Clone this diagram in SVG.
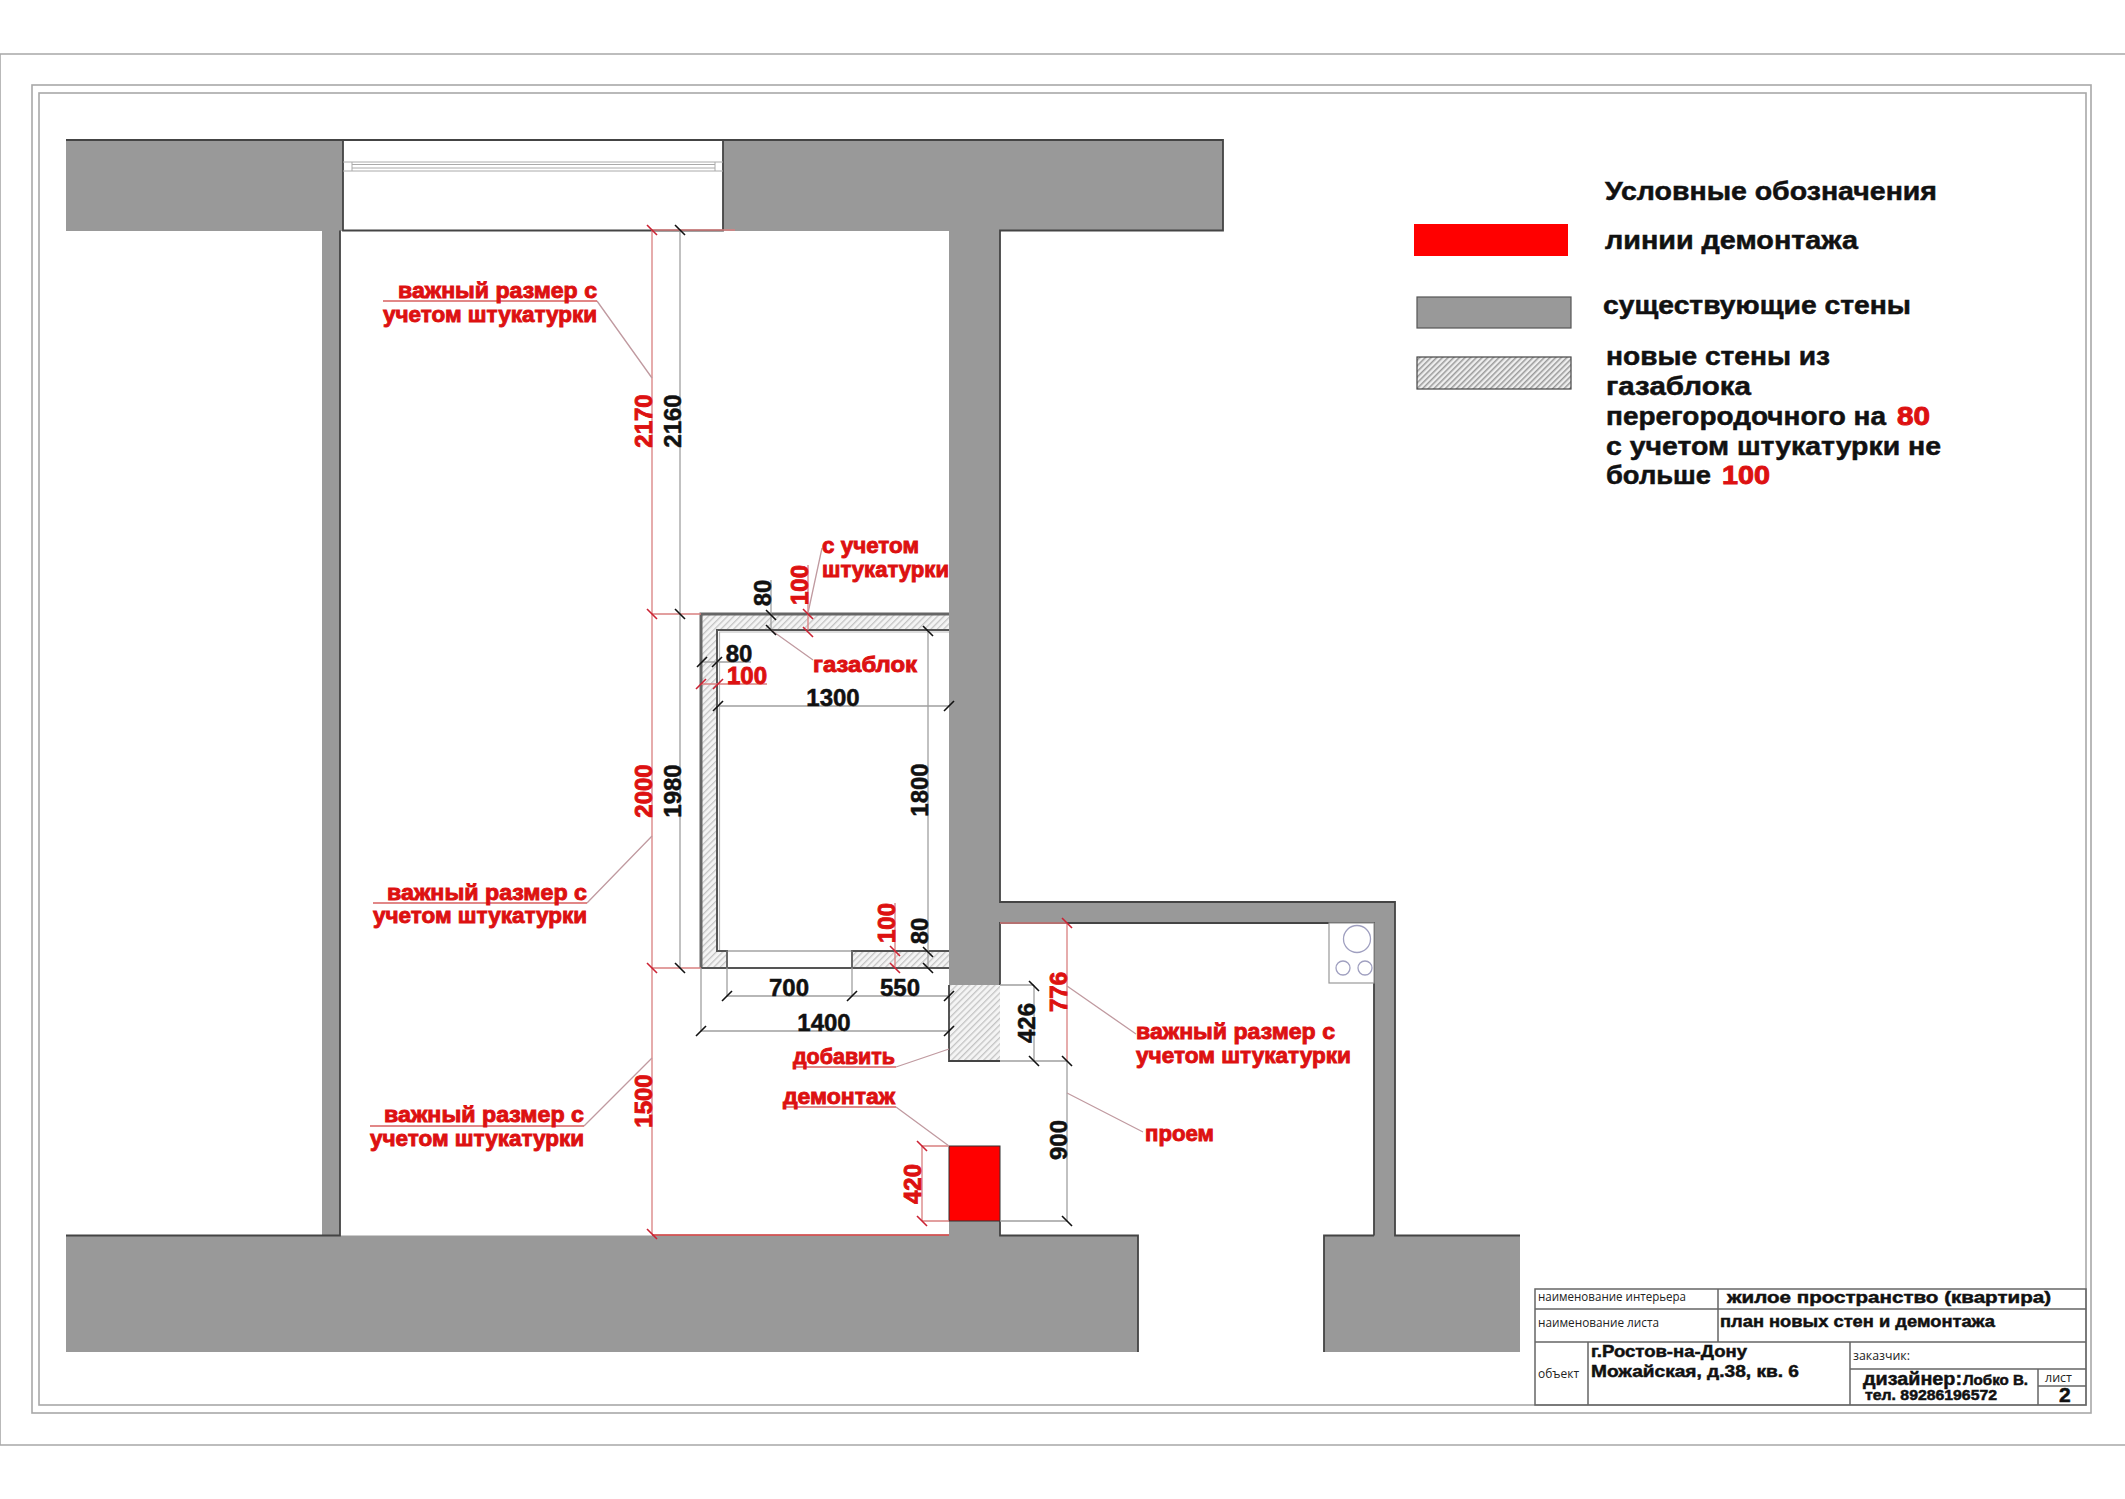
<svg xmlns="http://www.w3.org/2000/svg" xmlns:xlink="http://www.w3.org/1999/xlink" width="2125" height="1499" viewBox="0 0 2125 1499">
<style>
text{font-family:"Liberation Sans",Arial,sans-serif;font-weight:700;fill:#000;stroke:none}
.r{fill:#dd1111;stroke:#dd1111;stroke-width:.9}
.k{fill:#111;stroke:#111;stroke-width:.5}
.n{font-size:24px;text-anchor:middle}
.l{font-size:22px}
.g{font-size:25px}
.tb{font-size:17px}
.thin{font-family:"Open Sans","Noto Sans",sans-serif;font-weight:400;font-size:12px;fill:#222}
.frame{fill:none;stroke:#a8a8a8;stroke-width:1.6}
.wall{fill:#999}
.edge{fill:none;stroke:#444;stroke-width:1.8}
.hat{fill:url(#h)}
.dg{fill:none;stroke:#a0a0a0;stroke-width:1.3}
.dr{fill:none;stroke:#d98080;stroke-width:1.3}
.ld{fill:none;stroke:#c09aa0;stroke-width:1.3}
.ul{fill:none;stroke:#d86060;stroke-width:1.5}
.tk{stroke:#111;stroke-width:1.6}
.tr{stroke:#cc2233;stroke-width:1.6}
.tl{fill:none;stroke:#666;stroke-width:1.5}
.win{fill:none;stroke:#aaa;stroke-width:1}
</style>
<defs>
<pattern id="h" width="4.5" height="4.5" patternUnits="userSpaceOnUse" patternTransform="rotate(45)">
<rect width="4.5" height="4.5" fill="#f4f4f4"/><rect width="1.3" height="4.5" fill="#c4c4c4"/>
</pattern>
<pattern id="h2" width="4" height="4" patternUnits="userSpaceOnUse" patternTransform="rotate(45)">
<rect width="4" height="4" fill="#eee"/><rect width="1.5" height="4" fill="#999"/>
</pattern>
<path id="a" d="M-5-5L5 5"/>
<path id="b" d="M-5 5L5-5"/>
</defs>
<rect width="2125" height="1499" fill="#fff"/>
<g id="frames">
<path class="frame" d="M0 54H2125M0 54V1445H2125"/>
<rect class="frame" x="32" y="85" width="2059" height="1328"/>
<rect class="frame" x="39" y="93" width="2047" height="1312"/>
</g>
<g id="walls">
<path class="wall" d="M66 140H343V231H66ZM723 140H1223V231H723Z"/>
<rect class="wall" x="322" y="231" width="18" height="1005"/>
<path class="wall" d="M949 231H1000V902H1395V1236H1374V923H1000V985H949Z"/>
<path class="wall" d="M66 1235.5H949V1221H1000V1235.5H1138V1352H66ZM1324 1235.5H1520V1352H1324Z"/>
<path class="edge" d="M66 140H1223V230.5H1000V902H1395V1235.5H1520M343 140V230.5H723V140M340 230.5V1235.5H66M1374 1235.5V923H1000V985M1000 1221V1235.5H1138V1352M1324 1352V1235.5H1374"/>
</g>
<g id="window">
<path class="win" d="M343 162H723M343 171H723M352 162V171M715 162V171M352 164.5H715M352 168H715"/>
</g>
<g id="stove">
<rect x="1329" y="923" width="45" height="60" fill="#fff" stroke="#999" stroke-width="1.2"/>
<circle cx="1357" cy="939" r="13.5" fill="none" stroke="#a0a0c0" stroke-width="1.3"/>
<circle cx="1343" cy="968" r="7" fill="none" stroke="#a0a0c0" stroke-width="1.3"/>
<circle cx="1365" cy="968" r="7" fill="none" stroke="#a0a0c0" stroke-width="1.3"/>
</g>
<g id="new-walls">
<path class="hat" d="M701 614H949V630H717V951H727V968H701ZM852 951H949V968H852ZM949 985H1000V1061H949Z"/>
<path d="M701 968V614H949" fill="none" stroke="#666" stroke-width="3"/>
<path d="M719.5 951V632H949" fill="none" stroke="#bbb" stroke-width="1.2"/>
<path d="M727 968V951H717V630H949M949 951H852V968M701 968H949" fill="none" stroke="#555" stroke-width="2"/>
<path d="M727 968V951H852V968" fill="none" stroke="#777" stroke-width="1.2"/>
<path d="M949 985V1061H1000" fill="none" stroke="#444" stroke-width="1.8"/>
</g>
<g id="demolition">
<rect x="949" y="1146" width="51" height="75" fill="#f00" stroke="#333" stroke-width="1"/>
</g>
<g id="connectors">
<path class="dr" d="M652 230V1234M652 230H735M652 614H701M652 968H701M808 565V630M767 684H701M895 903V968M922 1146V1221M922 1146H949M922 1221H949M1067 923V1061M1000 923H1067"/>
<path d="M652 1235H949" fill="none" stroke="#cc3333" stroke-width="1.6"/>
<path class="dg" d="M680 230V968M771 580V630M702 662H751M717 706H949M928 630V968M727 968V996M852 968V996M727 996H949M701 968V1031M701 1031H949M1034 985V1061M1000 985H1034M1000 1061H1067M1067 1061V1221M1000 1221H1067"/>
<path class="ld" d="M597 301L652 378M587 903L652 836M584 1126L652 1058M822 548L808 613M771 630L813 660M896 1067L949 1049M896 1107L949 1146M1067 986L1136 1034M1067 1093L1143 1132"/>
<path class="ul" d="M383 301H597M373 903H587M370 1126H584M795 1067H896M783 1107H896"/>
<g class="tr">
<use xlink:href="#a" href="#a" x="652" y="230"/><use xlink:href="#a" href="#a" x="652" y="614"/><use xlink:href="#a" href="#a" x="652" y="968"/><use xlink:href="#a" href="#a" x="652" y="1234"/>
<use xlink:href="#a" href="#a" x="808" y="614"/><use xlink:href="#a" href="#a" x="808" y="632"/>
<use xlink:href="#b" href="#b" x="701" y="684"/><use xlink:href="#b" href="#b" x="718" y="684"/>
<use xlink:href="#a" href="#a" x="895" y="951"/><use xlink:href="#a" href="#a" x="895" y="968"/>
<use xlink:href="#a" href="#a" x="922" y="1146"/><use xlink:href="#a" href="#a" x="922" y="1221"/>
<use xlink:href="#a" href="#a" x="1067" y="923"/>
</g>
<g class="tk">
<use xlink:href="#a" href="#a" x="680" y="230"/><use xlink:href="#a" href="#a" x="680" y="614"/><use xlink:href="#a" href="#a" x="680" y="968"/>
<use xlink:href="#a" href="#a" x="771" y="615"/><use xlink:href="#a" href="#a" x="771" y="630"/>
<use xlink:href="#b" href="#b" x="702" y="662"/><use xlink:href="#b" href="#b" x="717" y="662"/>
<use xlink:href="#b" href="#b" x="718" y="706"/><use xlink:href="#b" href="#b" x="949" y="706"/>
<use xlink:href="#a" href="#a" x="928" y="631"/><use xlink:href="#a" href="#a" x="928" y="952"/><use xlink:href="#a" href="#a" x="928" y="968"/>
<use xlink:href="#b" href="#b" x="727" y="996"/><use xlink:href="#b" href="#b" x="852" y="996"/><use xlink:href="#b" href="#b" x="949" y="996"/>
<use xlink:href="#b" href="#b" x="701" y="1031"/><use xlink:href="#b" href="#b" x="949" y="1031"/>
<use xlink:href="#a" href="#a" x="1034" y="986"/><use xlink:href="#a" href="#a" x="1034" y="1061"/><use xlink:href="#a" href="#a" x="1067" y="1061"/><use xlink:href="#a" href="#a" x="1067" y="1221"/>
</g>
</g>
<g id="dimensions">
<text class="n r" transform="translate(652,421) rotate(-90)">2170</text>
<text class="n k" transform="translate(681,421) rotate(-90)">2160</text>
<text class="n r" transform="translate(652,791) rotate(-90)">2000</text>
<text class="n k" transform="translate(681,791) rotate(-90)">1980</text>
<text class="n r" transform="translate(652,1101) rotate(-90)">1500</text>
<text class="n r" transform="translate(808,585) rotate(-90)">100</text>
<text class="n k" transform="translate(771,593) rotate(-90)">80</text>
<text class="n k" x="739" y="662">80</text>
<text class="n r" x="747" y="684">100</text>
<text class="n k" x="833" y="706">1300</text>
<text class="n k" transform="translate(928,790) rotate(-90)">1800</text>
<text class="n r" transform="translate(895,923) rotate(-90)">100</text>
<text class="n k" transform="translate(928,931) rotate(-90)">80</text>
<text class="n k" x="789" y="996">700</text>
<text class="n k" x="900" y="996">550</text>
<text class="n k" x="824" y="1031">1400</text>
<text class="n r" transform="translate(921,1184) rotate(-90)">420</text>
<text class="n k" transform="translate(1035,1023) rotate(-90)">426</text>
<text class="n r" transform="translate(1067,992) rotate(-90)">776</text>
<text class="n k" transform="translate(1067,1140) rotate(-90)">900</text>
</g>
<g id="labels">
<text class="l r" x="398" y="298" textLength="199" lengthAdjust="spacingAndGlyphs">важный размер с</text>
<text class="l r" x="383" y="322" textLength="214" lengthAdjust="spacingAndGlyphs">учетом штукатурки</text>
<text class="l r" x="387" y="900" textLength="200" lengthAdjust="spacingAndGlyphs">важный размер с</text>
<text class="l r" x="373" y="923" textLength="214" lengthAdjust="spacingAndGlyphs">учетом штукатурки</text>
<text class="l r" x="384" y="1122" textLength="200" lengthAdjust="spacingAndGlyphs">важный размер с</text>
<text class="l r" x="370" y="1146" textLength="214" lengthAdjust="spacingAndGlyphs">учетом штукатурки</text>
<text class="l r" x="1136" y="1039" textLength="199" lengthAdjust="spacingAndGlyphs">важный размер с</text>
<text class="l r" x="1136" y="1063" textLength="215" lengthAdjust="spacingAndGlyphs">учетом штукатурки</text>
<text class="l r" x="822" y="553" textLength="97" lengthAdjust="spacingAndGlyphs">с учетом</text>
<text class="l r" x="822" y="577" textLength="127" lengthAdjust="spacingAndGlyphs">штукатурки</text>
<text class="l r" x="813" y="672" textLength="104" lengthAdjust="spacingAndGlyphs">газаблок</text>
<text class="l r" x="793" y="1064" textLength="102" lengthAdjust="spacingAndGlyphs">добавить</text>
<text class="l r" x="783" y="1104" textLength="112" lengthAdjust="spacingAndGlyphs">демонтаж</text>
<text class="l r" x="1145" y="1141" textLength="69" lengthAdjust="spacingAndGlyphs">проем</text>
</g>
<g id="legend">
<rect x="1414" y="224" width="154" height="32" fill="#f00"/>
<rect x="1417" y="297" width="154" height="31" fill="#999" stroke="#555" stroke-width="1.2"/>
<rect x="1417" y="357" width="154" height="32" fill="url(#h2)" stroke="#444" stroke-width="1.2"/>
<text class="g k" x="1605" y="200" textLength="332" lengthAdjust="spacingAndGlyphs">Условные обозначения</text>
<text class="g k" x="1605" y="249" textLength="253" lengthAdjust="spacingAndGlyphs">линии демонтажа</text>
<text class="g k" x="1603" y="314" textLength="308" lengthAdjust="spacingAndGlyphs">существующие стены</text>
<text class="g k" x="1606" y="365" textLength="224" lengthAdjust="spacingAndGlyphs">новые стены из</text>
<text class="g k" x="1606" y="395" textLength="145" lengthAdjust="spacingAndGlyphs">газаблока</text>
<text class="g k" x="1606" y="425" textLength="280" lengthAdjust="spacingAndGlyphs">перегородочного на</text>
<text class="g r" x="1897" y="425" textLength="33" lengthAdjust="spacingAndGlyphs">80</text>
<text class="g k" x="1606" y="455" textLength="335" lengthAdjust="spacingAndGlyphs">с учетом штукатурки не</text>
<text class="g k" x="1606" y="484" textLength="105" lengthAdjust="spacingAndGlyphs">больше</text>
<text class="g r" x="1722" y="484" textLength="48" lengthAdjust="spacingAndGlyphs">100</text>
</g>
<g id="title-block">
<path class="tl" d="M1535 1289H2086V1405H1535ZM1535 1309H2086M1535 1342H2086M1718 1289V1342M1588 1342V1405M1850 1342V1405M1850 1369H2086M2038 1369V1405M2038 1386H2086"/>
<text class="thin" x="1538" y="1301" textLength="148" lengthAdjust="spacingAndGlyphs">наименование интерьера</text>
<text class="thin" x="1538" y="1327" textLength="121" lengthAdjust="spacingAndGlyphs">наименование листа</text>
<text class="tb k" x="1727" y="1303" textLength="324" lengthAdjust="spacingAndGlyphs">жилое пространство (квартира)</text>
<text class="tb k" x="1720" y="1327" textLength="275" lengthAdjust="spacingAndGlyphs">план новых стен и демонтажа</text>
<text class="tb k" x="1591" y="1357" textLength="156" lengthAdjust="spacingAndGlyphs">г.Ростов-на-Дону</text>
<text class="tb k" x="1591" y="1377" textLength="208" lengthAdjust="spacingAndGlyphs">Можайская, д.38, кв. 6</text>
<text class="thin" x="1538" y="1378" textLength="41" lengthAdjust="spacingAndGlyphs">объект</text>
<text class="thin" x="1853" y="1360" textLength="57" lengthAdjust="spacingAndGlyphs">заказчик:</text>
<text class="k" x="1863" y="1385" style="font-size:19px" textLength="99" lengthAdjust="spacingAndGlyphs">дизайнер:</text>
<text class="k" x="1963" y="1385" style="font-size:14px" textLength="65" lengthAdjust="spacingAndGlyphs">Лобко В.</text>
<text class="k" x="1865" y="1400" style="font-size:14px" textLength="132" lengthAdjust="spacingAndGlyphs">тел. 89286196572</text>
<text class="thin" x="2045" y="1382" textLength="27" lengthAdjust="spacingAndGlyphs">лист</text>
<text class="k" x="2059" y="1402" style="font-size:21px">2</text>
</g>
</svg>
